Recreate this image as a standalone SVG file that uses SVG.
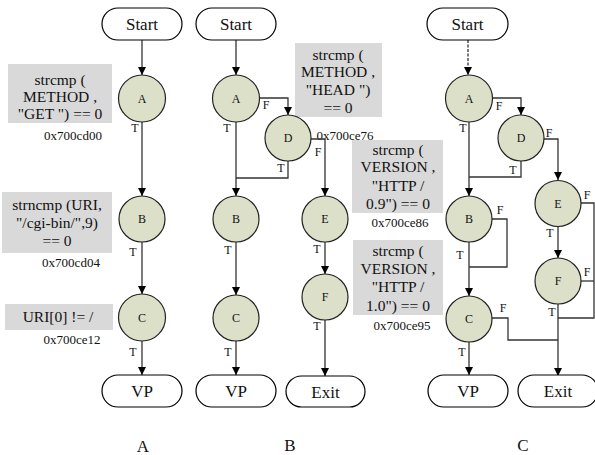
<svg xmlns="http://www.w3.org/2000/svg" width="595" height="455" viewBox="0 0 595 455" font-family="'Liberation Serif', 'DejaVu Serif', serif">
<style>
text{font-family:'Liberation Serif','DejaVu Serif',serif;fill:#111}
.pill{fill:#fff;stroke:#000;stroke-width:1.2}
.node{fill:#dde0c9;stroke:#222;stroke-width:1.2}
.box{fill:#d9d9d9}
.pt{font-size:17px;text-anchor:middle}
.nl{font-size:12px;text-anchor:middle}
.bx{font-size:15.5px;text-anchor:middle}
.ad{font-size:13px;text-anchor:middle}
.lb{font-size:12px;text-anchor:middle}
.pl{font-size:17px;text-anchor:middle}
.c{fill:none;stroke:#333;stroke-width:1.3}
.a{marker-end:url(#arr)}
</style>
<defs>
<marker id="arr" viewBox="0 0 10 10" refX="10" refY="5" markerWidth="8" markerHeight="10" markerUnits="userSpaceOnUse" orient="auto"><path d="M0,0 L10,5 L0,10 z" fill="#000"/></marker>
</defs>
<g id="annotations">
<rect class="box" x="8" y="64" width="104" height="59"/>
<text class="bx" x="60" y="85">strcmp (</text>
<text class="bx" x="60" y="102">METHOD ,</text>
<text class="bx" x="60" y="119">"GET ") == 0</text>
<text class="ad" x="73" y="140">0x700cd00</text>
<rect class="box" x="2" y="192" width="110" height="61"/>
<text class="bx" x="57" y="210">strncmp (URI,</text>
<text class="bx" x="57" y="228">"/cgi-bin/",9)</text>
<text class="bx" x="57" y="246">== 0</text>
<text class="ad" x="71" y="267">0x700cd04</text>
<rect class="box" x="5" y="304" width="108" height="26"/>
<text class="bx" x="58" y="322">URI[0] != /</text>
<text class="ad" x="72" y="344">0x700ce12</text>
<rect class="box" x="295" y="43" width="87" height="74"/>
<text class="bx" x="338" y="60">strcmp (</text>
<text class="bx" x="338" y="77">METHOD ,</text>
<text class="bx" x="338" y="95">"HEAD ")</text>
<text class="bx" x="338" y="113">== 0</text>
<text class="ad" x="345" y="140">0x700ce76</text>
<rect class="box" x="352" y="140" width="91" height="73"/>
<text class="bx" x="398" y="155">strcmp (</text>
<text class="bx" x="398" y="172">VERSION ,</text>
<text class="bx" x="398" y="191">"HTTP /</text>
<text class="bx" x="398" y="209">0.9") == 0</text>
<text class="ad" x="400" y="227">0x700ce86</text>
<rect class="box" x="353" y="240" width="90" height="75"/>
<text class="bx" x="398" y="256">strcmp (</text>
<text class="bx" x="398" y="274">VERSION ,</text>
<text class="bx" x="398" y="292">"HTTP /</text>
<text class="bx" x="398" y="311">1.0") == 0</text>
<text class="ad" x="402" y="330">0x700ce95</text>
</g>
<g id="connectors">
<path class="c a" d="M142,40 V75"/>
<path class="c a" d="M142,122 V196"/>
<path class="c a" d="M142,242 V294"/>
<path class="c a" d="M142,341 V375"/>
<path class="c a" d="M236,40 V75"/>
<path class="c a" d="M259,98 H288 V115"/>
<path class="c a" d="M236,122 V196"/>
<path class="c" d="M288,161 V178 H236"/>
<path class="c a" d="M311,139 H325 V196"/>
<path class="c a" d="M325,242 V274"/>
<path class="c a" d="M325,320 V376"/>
<path class="c a" d="M236,242 V295"/>
<path class="c a" d="M236,341 V375"/>
<path class="c a" d="M468,40 V75" stroke-dasharray="3,1.5"/>
<path class="c a" d="M492,98 H521 V115"/>
<path class="c a" d="M469,122 V196"/>
<path class="c" d="M521,161 V177 H469"/>
<path class="c a" d="M544,139 H558 V180"/>
<path class="c a" d="M558,227 V258"/>
<path class="c" d="M581,203 H594 V318 H558"/>
<path class="c" d="M581,281 H594"/>
<path class="c a" d="M558,304 V376"/>
<path class="c" d="M492,219 H507 V267 H469"/>
<path class="c a" d="M469,242 V296"/>
<path class="c" d="M492,318 H508 V340 H558"/>
<path class="c a" d="M469,341 V375"/>
<text class="lb" x="135" y="132">T</text>
<text class="lb" x="133" y="256">T</text>
<text class="lb" x="133" y="356">T</text>
<text class="lb" x="266" y="109">F</text>
<text class="lb" x="227" y="132">T</text>
<text class="lb" x="318" y="156">F</text>
<text class="lb" x="281" y="172">T</text>
<text class="lb" x="228" y="254">T</text>
<text class="lb" x="317" y="253">T</text>
<text class="lb" x="317" y="330">T</text>
<text class="lb" x="228" y="356">T</text>
<text class="lb" x="499" y="110">F</text>
<text class="lb" x="463" y="132">T</text>
<text class="lb" x="549" y="137">F</text>
<text class="lb" x="513" y="174">T</text>
<text class="lb" x="500" y="214">F</text>
<text class="lb" x="460" y="259">T</text>
<text class="lb" x="587" y="199">F</text>
<text class="lb" x="550" y="237">T</text>
<text class="lb" x="587" y="276">F</text>
<text class="lb" x="552" y="316">T</text>
<text class="lb" x="503" y="312">F</text>
<text class="lb" x="462" y="356">T</text>
</g>
<g id="A_Start"><rect class="pill" x="102" y="8" width="80" height="32" rx="16"/><text class="pt" x="142" y="30">Start</text></g>
<g id="A_A"><circle class="node" cx="142" cy="98.5" r="23.5"/><text class="nl" x="142" y="103">A</text></g>
<g id="A_B"><circle class="node" cx="142" cy="219" r="23"/><text class="nl" x="142" y="223">B</text></g>
<g id="A_C"><circle class="node" cx="142" cy="317.5" r="23.5"/><text class="nl" x="142" y="322">C</text></g>
<g id="A_VP"><rect class="pill" x="102" y="375" width="80" height="32" rx="16"/><text class="pt" x="142" y="397">VP</text></g>
<g id="B_Start"><rect class="pill" x="196" y="8" width="80" height="32" rx="16"/><text class="pt" x="236" y="30">Start</text></g>
<g id="B_A"><circle class="node" cx="236" cy="98.5" r="23.5"/><text class="nl" x="236" y="103">A</text></g>
<g id="B_D"><circle class="node" cx="288" cy="138" r="23"/><text class="nl" x="288" y="142">D</text></g>
<g id="B_B"><circle class="node" cx="236" cy="219" r="23"/><text class="nl" x="236" y="223">B</text></g>
<g id="B_E"><circle class="node" cx="325" cy="219" r="23"/><text class="nl" x="325" y="223">E</text></g>
<g id="B_F"><circle class="node" cx="325" cy="297" r="23"/><text class="nl" x="325" y="301">F</text></g>
<g id="B_C"><circle class="node" cx="236" cy="318" r="23"/><text class="nl" x="236" y="322">C</text></g>
<g id="B_VP"><rect class="pill" x="196" y="375" width="80" height="32" rx="16"/><text class="pt" x="236" y="397">VP</text></g>
<g id="B_Exit"><rect class="pill" x="286" y="376" width="79" height="31" rx="15.5"/><text class="pt" x="325.5" y="398">Exit</text></g>
<g id="C_Start"><rect class="pill" x="427" y="8" width="81" height="32" rx="16"/><text class="pt" x="467.5" y="30">Start</text></g>
<g id="C_A"><circle class="node" cx="469" cy="98.5" r="23.5"/><text class="nl" x="469" y="103">A</text></g>
<g id="C_D"><circle class="node" cx="521" cy="138" r="23"/><text class="nl" x="521" y="142">D</text></g>
<g id="C_B"><circle class="node" cx="469" cy="219" r="23"/><text class="nl" x="469" y="223">B</text></g>
<g id="C_E"><circle class="node" cx="558" cy="203.5" r="23"/><text class="nl" x="558" y="208">E</text></g>
<g id="C_F"><circle class="node" cx="558" cy="281" r="23"/><text class="nl" x="558" y="285">F</text></g>
<g id="C_C"><circle class="node" cx="469" cy="319" r="23"/><text class="nl" x="469" y="323">C</text></g>
<g id="C_VP"><rect class="pill" x="428" y="375" width="80" height="32" rx="16"/><text class="pt" x="468" y="397">VP</text></g>
<g id="C_Exit"><rect class="pill" x="518" y="375" width="80" height="32" rx="16"/><text class="pt" x="558" y="397">Exit</text></g>
<g id="panel_labels">
<text class="pl" x="143" y="452">A</text>
<text class="pl" x="290" y="451">B</text>
<text class="pl" x="523" y="451">C</text>
</g>
</svg>
